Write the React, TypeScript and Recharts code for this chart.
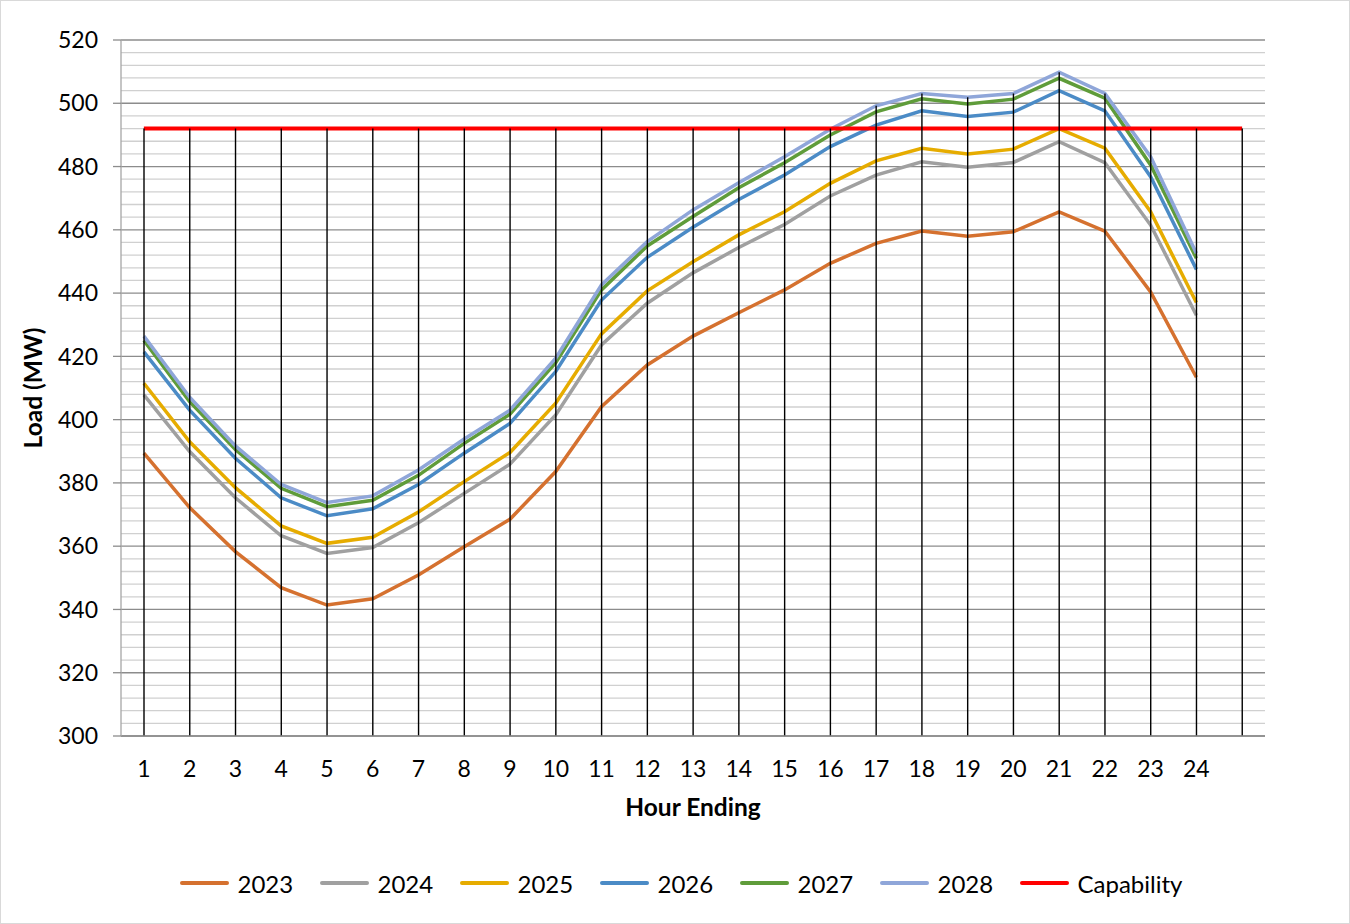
import { ComposedChart, Line, Bar, XAxis, YAxis, CartesianGrid, Legend, ReferenceLine } from "recharts";

const hourLabels = ["1", "2", "3", "4", "5", "6", "7", "8", "9", "10", "11", "12", "13", "14", "15", "16", "17", "18", "19", "20", "21", "22", "23", "24", ""];

const load2023 = [389.4, 372.2, 358.3, 346.9, 341.4, 343.4, 350.9, 359.8, 368.5, 383.6, 404.1, 417.3, 426.4, 433.8, 441.0, 449.4, 455.7, 459.6, 458.0, 459.4, 465.7, 459.6, 440.4, 413.4];
const load2024 = [407.8, 389.9, 375.3, 363.3, 357.7, 359.6, 367.4, 376.7, 385.9, 401.5, 423.6, 436.8, 446.4, 454.4, 461.7, 470.7, 477.3, 481.5, 479.8, 481.3, 487.9, 481.2, 461.5, 433.0];
const load2025 = [411.5, 393.0, 378.5, 366.4, 360.9, 362.8, 370.8, 380.4, 389.6, 405.2, 427.1, 440.7, 449.9, 458.4, 465.7, 474.7, 481.8, 485.8, 484.0, 485.5, 492.0, 485.8, 465.7, 437.0];
const load2026 = [421.4, 403.0, 387.8, 375.3, 369.6, 371.8, 379.5, 389.4, 398.8, 415.2, 437.8, 451.3, 460.8, 469.6, 477.3, 486.3, 493.1, 497.6, 495.8, 497.2, 504.0, 497.6, 476.8, 447.5];
const load2027 = [425.0, 405.7, 390.6, 378.3, 372.5, 374.5, 382.4, 392.5, 401.7, 418.0, 441.0, 454.9, 464.2, 473.3, 481.2, 490.0, 497.3, 501.4, 499.8, 501.3, 507.9, 501.6, 480.5, 451.0];
const load2028 = [426.4, 407.1, 391.7, 379.5, 373.8, 375.9, 384.1, 393.9, 403.0, 419.4, 442.6, 456.3, 466.3, 474.9, 483.1, 491.8, 499.2, 503.1, 501.9, 503.1, 509.8, 503.1, 483.1, 452.6];
const capability = [492, 492, 492, 492, 492, 492, 492, 492, 492, 492, 492, 492, 492, 492, 492, 492, 492, 492, 492, 492, 492, 492, 492, 492, 492];

const yTicks = [300, 320, 340, 360, 380, 400, 420, 440, 460, 480, 500, 520];
const minorTicks = [304, 308, 312, 316, 324, 328, 332, 336, 344, 348, 352, 356, 364, 368, 372, 376, 384, 388, 392, 396, 404, 408, 412, 416, 424, 428, 432, 436, 444, 448, 452, 456, 464, 468, 472, 476, 484, 488, 492, 496, 504, 508, 512, 516];

const series = [
  { key: "y2023", name: "2023", color: "#D5712F", values: load2023 },
  { key: "y2024", name: "2024", color: "#A0A0A0", values: load2024 },
  { key: "y2025", name: "2025", color: "#E6AC00", values: load2025 },
  { key: "y2026", name: "2026", color: "#4B8BC6", values: load2026 },
  { key: "y2027", name: "2027", color: "#5F9C3A", values: load2027 },
  { key: "y2028", name: "2028", color: "#8FA6D9", values: load2028 },
];
const capColor = "#FF0000";

const data = hourLabels.map((hour, i) => {
  const row: Record<string, string | number | null> = { hour, cap: capability[i] };
  const vals: number[] = [capability[i]];
  series.forEach((s) => {
    const v = s.values[i];
    row[s.key] = v === undefined ? null : v;
    if (v !== undefined) vals.push(v);
  });
  row.drop = Math.max(...vals);
  return row;
});

const font = "Lato, 'Open Sans', sans-serif";
const tick = { fontSize: 23, fill: "#000", fontFamily: font };
const titleStyle = { fontSize: 24.5, fontWeight: 700, fill: "#000", fontFamily: font };

function DropLine(p: any) {
  const cx = p.x + p.width / 2;
  return <line x1={cx} x2={cx} y1={p.y} y2={p.y + p.height} stroke="#000" strokeWidth={1.4} />;
}

function LegendRow() {
  const items = [...series.map((s) => ({ name: s.name, color: s.color })), { name: "Capability", color: capColor }];
  return (
    <div style={{ display: "flex", justifyContent: "center", alignItems: "center", height: 40, paddingLeft: 12, fontFamily: font, fontSize: 24, color: "#000" }}>
      {items.map((it, i) => (
        <div key={i} style={{ display: "flex", alignItems: "center", width: i < items.length - 1 ? 140 : undefined }}>
          <span style={{ display: "inline-block", width: 49, height: 4, borderRadius: 2, background: it.color }} />
          <span style={{ marginLeft: 9 }}>{it.name}</span>
        </div>
      ))}
    </div>
  );
}

export default function App() {
  return (
    <div style={{ position: "absolute", left: 0, top: 0, width: 1350, height: 924, boxSizing: "border-box", border: "1px solid #d9d9d9", background: "#fff" }}>
      <ComposedChart width={1348} height={922} data={data} margin={{ top: 39, right: 84, bottom: 20, left: 0 }}>
        <CartesianGrid vertical={false} stroke="#8c8c8c" strokeWidth={1.3} />
        {minorTicks.map((v) => (
          <ReferenceLine key={v} y={v} stroke="#d0d0d0" strokeWidth={1.3} zIndex={-50} />
        ))}
        <XAxis
          dataKey="hour"
          interval={0}
          tickLine={false}
          tickSize={0}
          tickMargin={25}
          height={127}
          tick={tick}
          axisLine={{ stroke: "#8c8c8c", strokeWidth: 1.3 }}
          label={{ value: "Hour Ending", position: "center", dy: 8, style: titleStyle }}
        />
        <YAxis
          type="number"
          domain={[300, 520]}
          ticks={yTicks}
          interval={0}
          width={120}
          tickSize={8}
          tickMargin={15}
          tick={tick}
          axisLine={{ stroke: "#a6a6a6", strokeWidth: 1.3 }}
          tickLine={{ stroke: "#8c8c8c", strokeWidth: 1.3 }}
          label={{ value: "Load (MW)", angle: -90, position: "center", dx: -28, style: titleStyle }}
        />
        {series.map((s) => (
          <Line key={s.key} type="linear" dataKey={s.key} name={s.name} stroke={s.color} strokeWidth={3.5} dot={false} activeDot={false} isAnimationActive={false} />
        ))}
        <Line type="linear" dataKey="cap" name="Capability" stroke={capColor} strokeWidth={4} dot={false} activeDot={false} isAnimationActive={false} />
        <Bar dataKey="drop" barSize={2} shape={DropLine} isAnimationActive={false} zIndex={450} legendType="none" />
        <Legend verticalAlign="bottom" height={40} wrapperStyle={{ left: 0, width: 1348 }} content={() => <LegendRow />} />
      </ComposedChart>
    </div>
  );
}
